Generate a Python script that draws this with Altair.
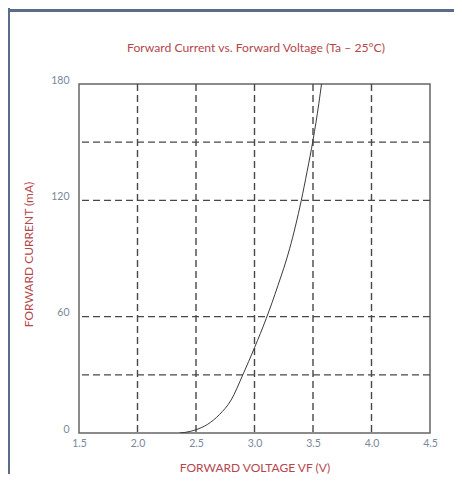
import altair as alt
import pandas as pd

# Curve
voltage = [2.36, 2.45, 2.50, 2.60, 2.70, 2.80, 2.90, 3.00, 3.10, 3.20, 3.30, 3.40, 3.45, 3.50, 3.55, 3.575]
current = [0.0, 0.8, 1.7, 4.5, 9.5, 17.0, 30.0, 44.0, 59.0, 76.0, 95.0, 120.0, 135.0, 151.0, 170.0, 181.0]

x_ticks = [1.5, 2.0, 2.5, 3.0, 3.5, 4.0, 4.5]
y_ticks = [0, 60, 120, 180]
x_grid = [2.0, 2.5, 3.0, 3.5, 4.0]
y_grid = [30, 60, 120, 150]
chart_title = ["Forward Current vs. Forward Voltage (Ta – 25°C)"]

curve_df = pd.DataFrame({"v": voltage, "i": current})
xg_df = pd.DataFrame({"v": x_grid})
yg_df = pd.DataFrame({"i": y_grid})
title_df = pd.DataFrame({"t": chart_title})

label_color = "#7b879c"
title_color = "#b5474c"
font = "Lato"

xs = alt.Scale(domain=[1.5, 4.5], nice=False, zero=False)
ys = alt.Scale(domain=[0, 180], nice=False)

grid_style = dict(stroke="#484848", strokeWidth=1.4, strokeDash=[7, 4])

xgrid = alt.Chart(xg_df).mark_rule(**grid_style).encode(
    x=alt.X("v:Q", scale=xs)
)
ygrid = alt.Chart(yg_df).mark_rule(**grid_style).encode(
    y=alt.Y("i:Q", scale=ys)
)

curve = alt.Chart(curve_df).mark_line(
    color="#3a3a3a", strokeWidth=1, interpolate="monotone", clip=True
).encode(
    x=alt.X(
        "v:Q", scale=xs,
        axis=alt.Axis(
            values=x_ticks, format=".1f", title="FORWARD VOLTAGE VF (V)",
            ticks=False, grid=False, domain=False, labelPadding=5,
            labelColor=label_color, labelFont=font, labelFontSize=10.5,
            titleColor=title_color, titleFont=font, titleFontSize=12,
            titleFontWeight="normal", titlePadding=14,
            labelFlush=False,
        ),
    ),
    y=alt.Y(
        "i:Q", scale=ys,
        axis=alt.Axis(
            values=y_ticks, title="FORWARD CURRENT (mA)",
            ticks=False, grid=False, domain=False, labelPadding=10,
            labelOffset=-4, labelFlush=False,
            labelColor=label_color, labelFont=font, labelFontSize=10.5,
            titleColor=title_color, titleFont=font, titleFontSize=12,
            titleFontWeight="normal", titlePadding=15, titleY=170,
        ),
    ),
)

title_text = alt.Chart(title_df).mark_text(
    color=title_color, font=font, fontSize=12.2, align="center", baseline="middle"
).encode(text="t:N", x=alt.value(177), y=alt.value(-36))

border_left = alt.Chart(pd.DataFrame({"a": [0]})).mark_rule(
    color="#5b6c88", strokeWidth=3
).encode(x=alt.value(-70.5), y=alt.value(-76), y2=alt.value(400))
border_top = alt.Chart(pd.DataFrame({"a": [0]})).mark_rule(
    color="#5b6c88", strokeWidth=3
).encode(x=alt.value(-72), x2=alt.value(380), y=alt.value(-73.5))

chart = alt.layer(xgrid, ygrid, curve, title_text, border_left, border_top).properties(
    width=351,
    height=349,
    autosize=alt.AutoSizeParams(type="none"),
    padding={"left": 71, "top": 76, "right": 24, "bottom": 41},
    background="white",
).configure_view(
    stroke="#666666", strokeWidth=1.5
)

chart.save("out.html", embed_options={"renderer": "svg", "actions": False})
